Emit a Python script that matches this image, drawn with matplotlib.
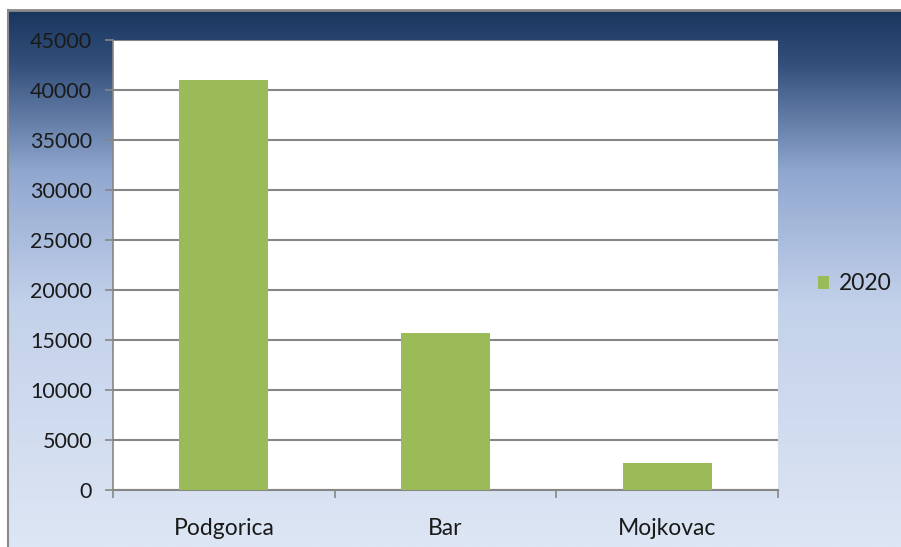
import numpy as np
import matplotlib.pyplot as plt
from matplotlib.colors import LinearSegmentedColormap

cities = ["Podgorica", "Bar", "Mojkovac"]
values_2020 = [41000, 15700, 2700]
yticks = [0, 5000, 10000, 15000, 20000, 25000, 30000, 35000, 40000, 45000]

plt.rcParams["font.family"] = ["Lato", "DejaVu Sans"]

W, H = 901, 547
fig = plt.figure(figsize=(W / 100, H / 100), dpi=100)
fig.patch.set_facecolor("white")

# gradient frame behind the chart
bg = fig.add_axes([8 / W, 0, 1 - 8 / W, 1 - 10 / H])
bg.set_zorder(-1)
cmap = LinearSegmentedColormap.from_list(
    "frame",
    [(0.0, "#1a365f"), (0.1, "#33507c"), (0.3, "#90a7cf"),
     (0.55, "#c3d1ea"), (1.0, "#dde6f4")],
)
grad = np.linspace(0, 1, 256).reshape(-1, 1)
bg.imshow(grad, cmap=cmap, aspect="auto", extent=[0, 1, 1, 0])
bg.set_xlim(0, 1)
bg.set_ylim(1, 0)
bg.set_xticks([])
bg.set_yticks([])
for s in ["right", "bottom"]:
    bg.spines[s].set_visible(False)
bg.spines["left"].set_color("#8a8a8a")
bg.spines["top"].set_color("#8a8a8a")
bg.spines["left"].set_linewidth(1.5)
bg.spines["top"].set_linewidth(2)

ax = fig.add_axes([113 / W, 1 - 490 / H, (778 - 113) / W, (490 - 40) / H])
ax.set_facecolor("white")
x = np.arange(len(cities))
ax.bar(x, values_2020, width=0.4, color="#9bbb59", zorder=3, label="2020")
ax.set_xlim(-0.5, len(cities) - 0.5)
ax.set_ylim(0, 45000)
ax.set_yticks(yticks)
ax.set_yticklabels([str(v) for v in yticks])
ax.yaxis.grid(True, color="#868686", linewidth=1.5, zorder=0)
ax.set_xticks(x)
ax.set_xticklabels(cities)
ax.set_xticks(np.arange(-0.5, len(cities)), minor=True)
ax.tick_params(axis="x", which="major", length=0, pad=20, labelsize=16.5, colors="#1a1a1a")
ax.tick_params(axis="x", which="minor", length=6, width=1.2, color="#868686")
ax.tick_params(axis="y", length=6, width=1.2, color="#868686", pad=9,
               labelsize=15.5, labelcolor="#1a1a1a")
for s in ["top", "right"]:
    ax.spines[s].set_visible(False)
ax.spines["left"].set_color("#868686")
ax.spines["bottom"].set_color("#868686")
ax.spines["left"].set_linewidth(1.2)
ax.spines["bottom"].set_linewidth(1.5)

leg = fig.legend(loc="center left", bbox_to_anchor=(818 / W, 1 - 284 / H),
                 frameon=False, fontsize=16.5, handlelength=0.5, handleheight=0.5,
                 handletextpad=0.4, borderpad=0, borderaxespad=0)
for t in leg.get_texts():
    t.set_color("#1a1a1a")

fig.savefig("out.png", dpi=100)
